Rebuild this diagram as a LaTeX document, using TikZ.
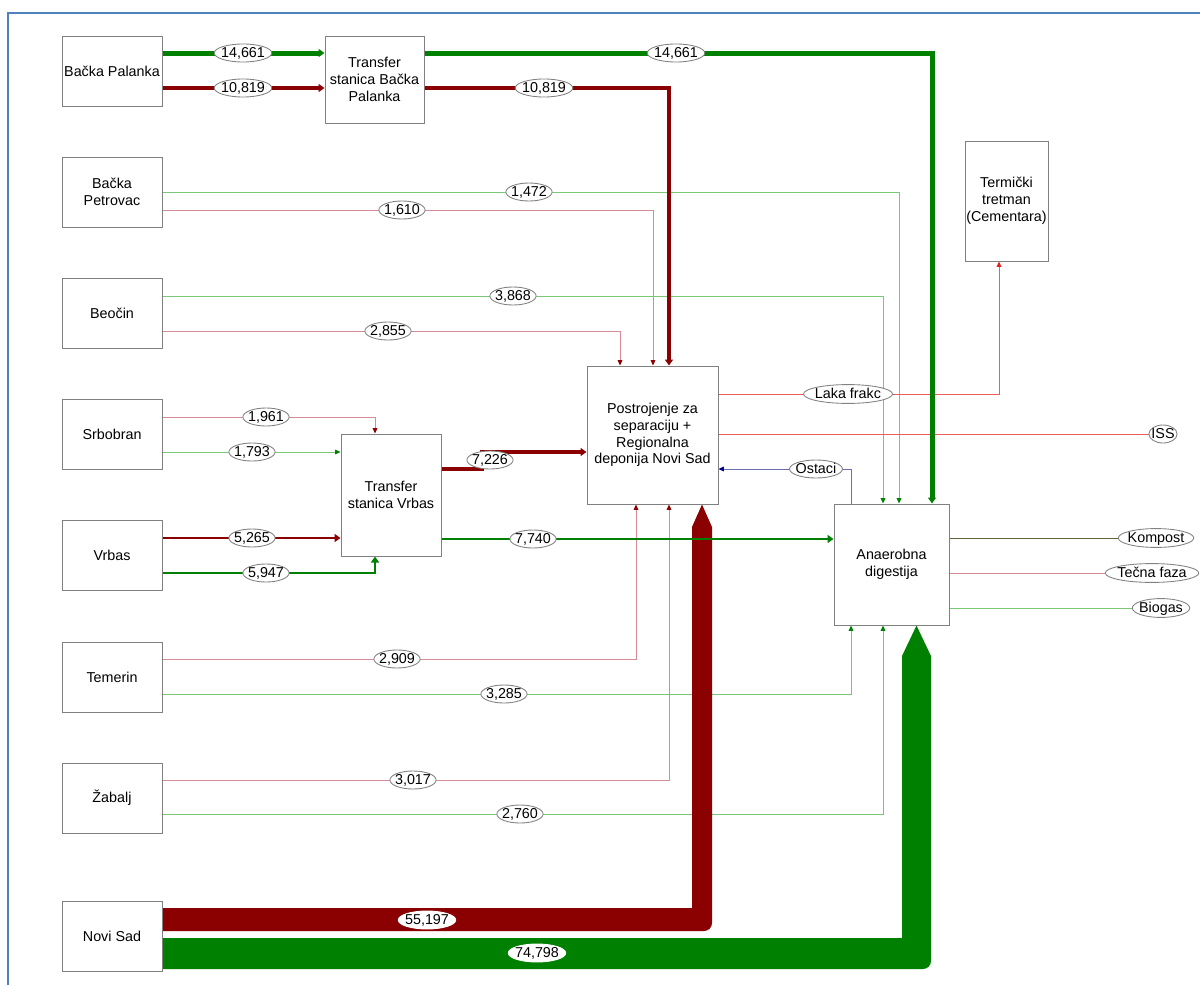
\documentclass[tikz,border=0pt]{standalone}
\usepackage{fontspec}
\setmainfont{Liberation Sans}
\usetikzlibrary{arrows.meta,shapes.geometric,backgrounds}
\definecolor{dred}{RGB}{139,0,0}
\definecolor{dgreen}{RGB}{0,128,0}
\definecolor{tred}{RGB}{214,140,150}
\definecolor{tgreen}{RGB}{120,200,120}
\definecolor{lred}{RGB}{240,90,90}
\definecolor{bred}{RGB}{230,30,30}
\definecolor{ostline}{RGB}{110,110,180}
\definecolor{ostarrow}{RGB}{0,0,140}
\definecolor{kompline}{RGB}{100,100,60}
\definecolor{boxgray}{RGB}{128,128,128}
\definecolor{labgray}{RGB}{130,130,130}
\definecolor{framblue}{RGB}{79,129,189}
\begin{document}
\begin{tikzpicture}[x=0.75pt,y=-0.75pt,
  font=\fontsize{10.75}{12.6}\selectfont,
  box/.style={draw=boxgray, line width=0.75pt, fill=white, align=center, inner sep=0.3pt, minimum width=75pt, minimum height=52.5pt},
  lab/.style={ellipse, draw=labgray, fill=white, line width=0.65pt, inner xsep=-1.2pt, inner ysep=0.5pt, text height=7.8pt, text depth=0.6pt, minimum height=13.5pt},
  labd/.style={lab, text depth=2pt, text height=8pt, inner ysep=0pt},
  wlab/.style={lab, draw=white},
  thinr/.style={draw=tred, line width=0.75pt},
  thing/.style={draw=tgreen, line width=0.75pt},
  tipr/.style={-{Triangle[length=4pt,width=3.5pt,color=dred]}},
  tipg/.style={-{Triangle[length=4pt,width=3.5pt,color=dgreen]}},
  bigtipr/.style={-{Triangle[length=4.5pt,width=6pt,color=dred]}},
  bigtipg/.style={-{Triangle[length=4.5pt,width=6pt,color=dgreen]}},
  framestyle/.style={draw=framblue, line width=1.6pt}
]
\useasboundingbox (0,0) rectangle (1200,985);
\draw[framestyle] (8,985) -- (8,13) -- (1200,13);

% boxes
\node[box] (bp) at (112,71) {Bačka Palanka};
\node[box, minimum width=74.25pt, minimum height=65.25pt] (tbp) at (374.5,79.5) {Transfer\\stanica Bačka\\Palanka};
\node[box] (bpet) at (112,192) {Bačka\\Petrovac};
\node[box] (beo) at (112,313) {Beočin};
\node[box] (srb) at (112,434.5) {Srbobran};
\node[box] (vrb) at (112,555.5) {Vrbas};
\node[box, minimum height=91.5pt] (tv) at (391,495) {Transfer\\stanica Vrbas};
\node[box] (tem) at (112,677) {Temerin};
\node[box] (zab) at (112,798) {Žabalj};
\node[box] (ns) at (112,936.5) {Novi Sad};
\node[box, minimum width=98.25pt, minimum height=103.5pt] (post) at (652.5,435) {Postrojenje za\\separaciju +\\Regionalna\\deponija Novi Sad};
\node[box, minimum width=62.25pt, minimum height=90pt] (term) at (1006.5,201) {Termički\\tretman\\(Cementara)};
\node[box, minimum width=86.25pt, minimum height=90.75pt] (ana) at (891.5,564.5) {Anaerobna\\digestija};

% labels
\node[lab] (l1) at (243,53) {14,661};
\node[lab] (l2) at (243,88) {10,819};
\node[lab] (l3) at (676,53) {14,661};
\node[lab] (l4) at (544,88) {10,819};
\node[lab] (l5) at (529,192) {1,472};
\node[lab] (l6) at (402,210) {1,610};
\node[lab] (l7) at (513,296) {3,868};
\node[lab] (l8) at (388,331) {2,855};
\node[lab] (l9) at (266,417) {1,961};
\node[lab] (l10) at (252,452) {1,793};
\node[lab] (l11) at (252,538) {5,265};
\node[lab] (l12) at (266,573) {5,947};
\node[lab] (l13) at (490,460) {7,226};
\node[lab] (l14) at (533,539) {7,740};
\node[lab] (l15) at (397,659) {2,909};
\node[lab] (l16) at (504,694) {3,285};
\node[lab] (l17) at (413,780) {3,017};
\node[lab] (l18) at (520,814) {2,760};
\node[wlab] (l19) at (427,920) {55,197};
\node[wlab] (l20) at (537,953) {74,798};
\node[labd] (laka) at (848,394) {Laka frakc};
\node[lab] (iss) at (1163,434) {ISS};
\node[lab] (ost) at (816,469) {Ostaci};
\node[labd] (kom) at (1156,538) {Kompost};
\node[labd] (tec) at (1152,573) {Tečna faza};
\node[labd] (bio) at (1161,608) {Biogas};

\begin{scope}[on background layer]
% thin lines
\draw[thing, tipg] (bpet.east |- 0,192) -- (899,192) -- (899,0 |- ana.north);
\draw[thinr, tipr] (bpet.east |- 0,210) -- (653,210) -- (653,0 |- post.north);
\draw[thing, tipg] (beo.east |- 0,296) -- (883,296) -- (883,0 |- ana.north);
\draw[thinr, tipr] (beo.east |- 0,331) -- (620,331) -- (620,0 |- post.north);
\draw[thinr, tipr] (srb.east |- 0,417) -- (375,417) -- (375,0 |- tv.north);
\draw[thing, tipg] (srb.east |- 0,452) -- (tv.west |- 0,452);
\draw[thinr, tipr] (tem.east |- 0,659) -- (636,659) -- (636,0 |- post.south);
\draw[thing, tipg] (tem.east |- 0,694) -- (851,694) -- (851,0 |- ana.south);
\draw[thinr, tipr] (zab.east |- 0,780) -- (669,780) -- (669,0 |- post.south);
\draw[thing, tipg] (zab.east |- 0,814) -- (883,814) -- (883,0 |- ana.south);
% outputs
\draw[draw=lred, line width=0.75pt, -{Triangle[length=4pt,width=3.5pt,color=bred]}] (post.east |- 0,394) -- (999,394) -- (999,0 |- term.south);
\draw[draw=lred, line width=0.75pt] (post.east |- 0,434) -- (iss.west);
\draw[draw=ostline, line width=0.75pt, -{Triangle[length=4pt,width=3.5pt,color=ostarrow]}] (851,0 |- ana.north) -- (851,469) -- (post.east |- 0,469);
\draw[draw=kompline, line width=0.75pt] (ana.east |- 0,538) -- (kom.west);
\draw[draw=tred, line width=0.75pt] (ana.east |- 0,573) -- (tec.west);
\draw[draw=tgreen, line width=0.75pt] (ana.east |- 0,608) -- (bio.west);
% thick lines
\draw[draw=dgreen, line width=3.75pt, bigtipg] (bp.east |- 0,53) -- (tbp.west |- 0,53);
\draw[draw=dred, line width=3pt, bigtipr] (bp.east |- 0,88) -- (tbp.west |- 0,88);
\draw[draw=dgreen, line width=3.75pt, bigtipg] (tbp.east |- 0,53) -- (932,53) -- (932,0 |- ana.north);
\draw[draw=dred, line width=3pt, bigtipr] (tbp.east |- 0,88) -- (669,88) -- (669,0 |- post.north);
\draw[draw=dred, line width=2.2pt, bigtipr] (vrb.east |- 0,538) -- (tv.west |- 0,538);
\draw[draw=dgreen, line width=1.9pt, bigtipg] (vrb.east |- 0,573) -- (375,573) -- (375,0 |- tv.south);
\draw[draw=dred, line width=2.6pt, bigtipr] (tv.east |- 0,469) -- (482,469) -- (482,452) -- (post.west |- 0,452);
% Novi Sad flows
\fill[dred] (ns.east |- 0,908) -- (692,908) -- (692,527) -- (702,0 |- post.south) -- (712,527) [rounded corners=6pt] -- (712,931) -- (400,931) [sharp corners] -- (ns.east |- 0,931) -- cycle;
\fill[dgreen] (ns.east |- 0,938) -- (902,938) -- (902,656) -- (916.5,0 |- ana.south) -- (931,656) [rounded corners=6pt] -- (931,969) -- (600,969) [sharp corners] -- (ns.east |- 0,969) -- cycle;
\draw[draw=dgreen, line width=1.9pt, bigtipg] (tv.east |- 0,539) -- (ana.west |- 0,539);
\end{scope}
\end{tikzpicture}
\end{document}
